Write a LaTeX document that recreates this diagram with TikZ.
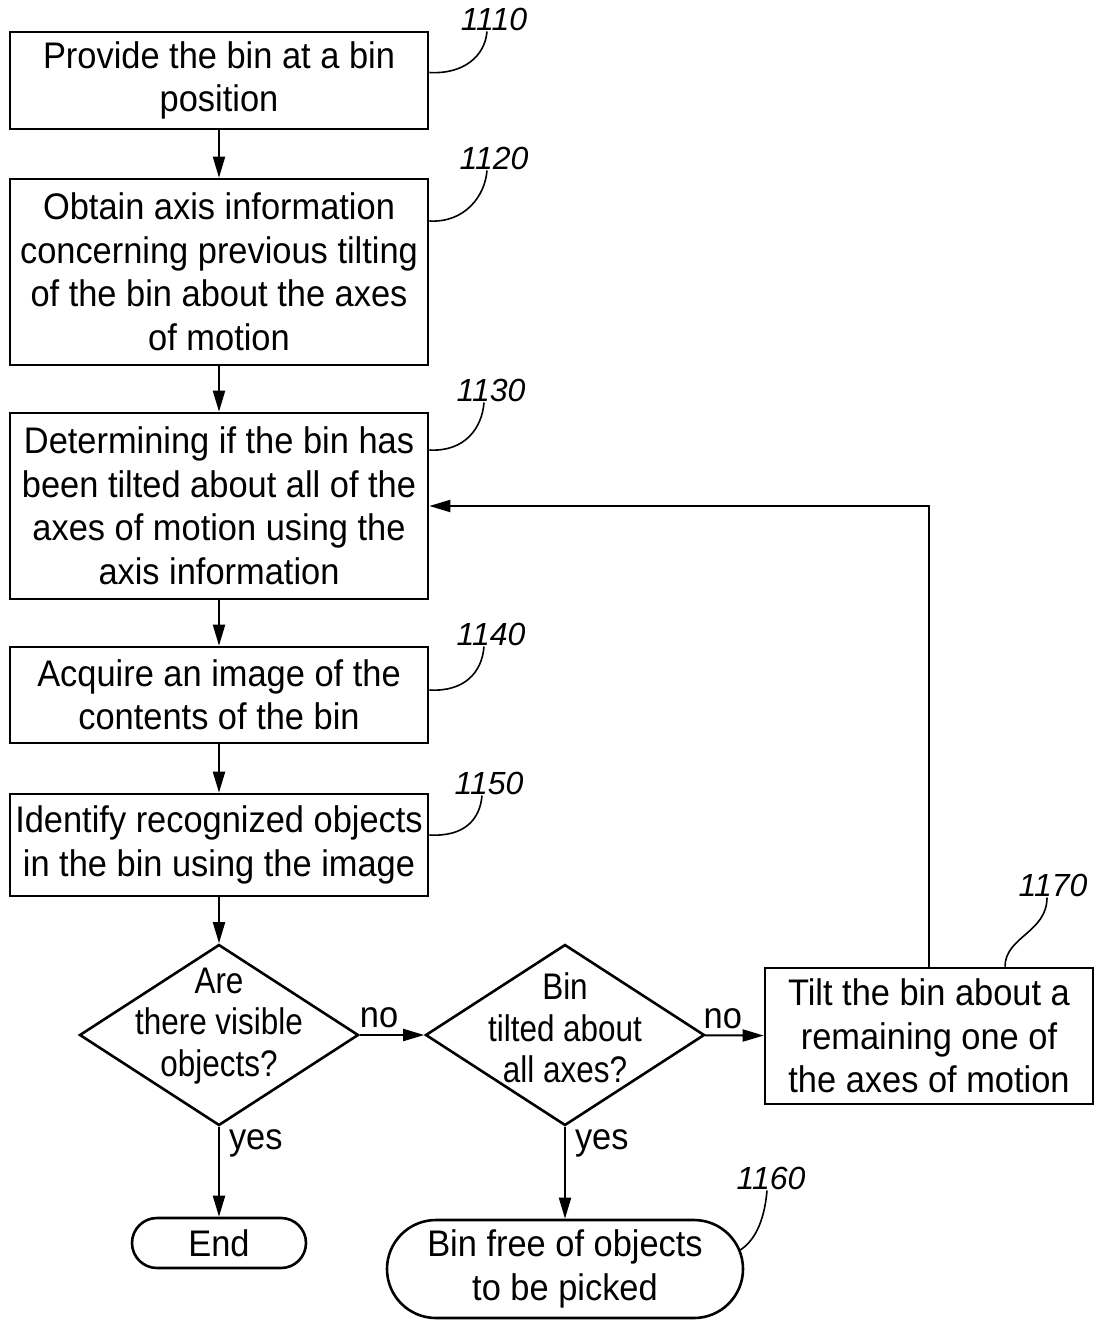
\documentclass[tikz,border=0pt]{standalone}
\usepackage{fontspec}
\setmainfont{Liberation Sans}[FakeStretch=0.93]
\newfontfamily\qfont{Liberation Sans}[FakeStretch=0.85]
\newfontfamily\numfont{Liberation Sans}
\usetikzlibrary{positioning,calc}
\usetikzlibrary{arrows.meta,shapes.geometric}
\newcommand{\flowfont}{\fontsize{37}{43.5}\selectfont}
\newcommand{\qtextfont}{\qfont\fontsize{37}{41.5}\selectfont}
\newcommand{\reffont}{\numfont\fontsize{32}{34}\selectfont\itshape}
\tikzset{
  stepbox/.style={draw=black,line width=2.6pt,fill=white,minimum width=418pt,inner sep=0pt,align=center,font=\flowfont},
  decision/.style={diamond,draw=black,line width=2.6pt,minimum width=279pt,minimum height=181pt,inner sep=0pt},
  qtext/.style={align=center,font=\qtextfont,inner sep=0pt},
  term/.style={draw=black,line width=2.6pt,inner sep=0pt,align=center,font=\flowfont},
  flow/.style={draw=black,line width=2pt,-{Triangle[length=21pt,width=12pt]}},
  lab/.style={font=\flowfont,inner sep=6pt},
}
\tikzset{refnum/.style={font=\reffont,inner sep=1pt}, lead/.style={draw=black,line width=1.6pt}}

\begin{document}
\begin{tikzpicture}[x=1pt,y=-1pt]
\useasboundingbox (0,0) rectangle (1095,1322);
% main column
\node[stepbox,minimum height=97pt] (b1) at (219,80.5) {Provide the bin at a bin\\position};
\node[stepbox,minimum height=186pt] (b2) at (219,272) {Obtain axis information\\concerning previous tilting\\of the bin about the axes\\of motion};
\node[stepbox,minimum height=186pt] (b3) at (219,506) {Determining if the bin has\\been tilted about all of the\\axes of motion using the\\axis information};
\node[stepbox,minimum height=96pt] (b4) at (219,695) {Acquire an image of the\\contents of the bin};
\node[stepbox,minimum height=102pt] (b5) at (219,845) {Identify recognized objects\\in the bin using the image};
% decisions
\node[decision] (q1) at (219,1035) {};
\node[qtext,yshift=9pt] (q1t) at (q1) {Are\\there visible\\objects?};
\node[decision] (q2) at (565,1035) {};
\node[qtext,yshift=7pt] (q2t) at (q2) {Bin\\tilted about\\all axes?};
\node[stepbox,minimum width=328pt,minimum height=136pt] (b7) at (929,1036) {Tilt the bin about a\\remaining one of\\the axes of motion};
% ends
\node[term,minimum width=174pt,minimum height=50pt,rounded corners=25pt] (e1) at (219,1243) {End};
\node[term,minimum width=356pt,minimum height=98pt,rounded corners=49pt] (s2) at (565,1269) {Bin free of objects\\to be picked};

\draw[flow] (b1) -- (b2);
\draw[flow] (b2) -- (b3);
\draw[flow] (b3) -- (b4);
\draw[flow] (b4) -- (b5);
\draw[flow] (b5) -- (q1);
\draw[flow] (q1) -- node[lab,above,pos=0.3] (n1) {no} (q2);
\draw[flow] (q2) -- node[lab,above,pos=0.3] (n2) {no} (b7);
\draw[flow] (q1) -- node[lab,right,pos=0.18,xshift=3pt] (y1) {yes} (e1);
\draw[flow] (q2) -- node[lab,right,pos=0.18,xshift=3pt] (y2) {yes} (s2);
\draw[flow] (b7) |- (b3);

% reference numerals
\node[refnum] (l1) at (494,19) {1110};
\node[refnum] (l2) at (494,158) {1120};
\node[refnum] (l3) at (491,390) {1130};
\node[refnum] (l4) at (491,634) {1140};
\node[refnum] (l5) at (489,783) {1150};
\node[refnum] (l7) at (1053,885) {1170};
\node[refnum] (l6) at (771,1178) {1160};
\draw[lead] ([xshift=-7pt]l1.south) .. controls +(-2,24) and +(35,2) .. ([yshift=8pt]b1.east);
\draw[lead] ([xshift=-7pt]l2.south) .. controls +(-2,26) and +(35,2) .. ([yshift=51pt]b2.east);
\draw[lead] ([xshift=-7pt]l3.south) .. controls +(-2,26) and +(35,2) .. ([yshift=56pt]b3.east);
\draw[lead] ([xshift=-7pt]l4.south) .. controls +(-2,26) and +(35,2) .. ([yshift=5pt]b4.east);
\draw[lead] ([xshift=-7pt]l5.south) .. controls +(-2,24) and +(35,2) .. ([yshift=10pt]b5.east);
\draw[lead] ([xshift=-6pt]l7.south) .. controls +(0,35) and +(0,-30) .. ([xshift=76pt]b7.north);
\draw[lead] ([xshift=-4pt]l6.south) .. controls +(-3,35) and +(12,-8) .. ([shift={(-4pt,19pt)}]s2.east);
\end{tikzpicture}
\end{document}
